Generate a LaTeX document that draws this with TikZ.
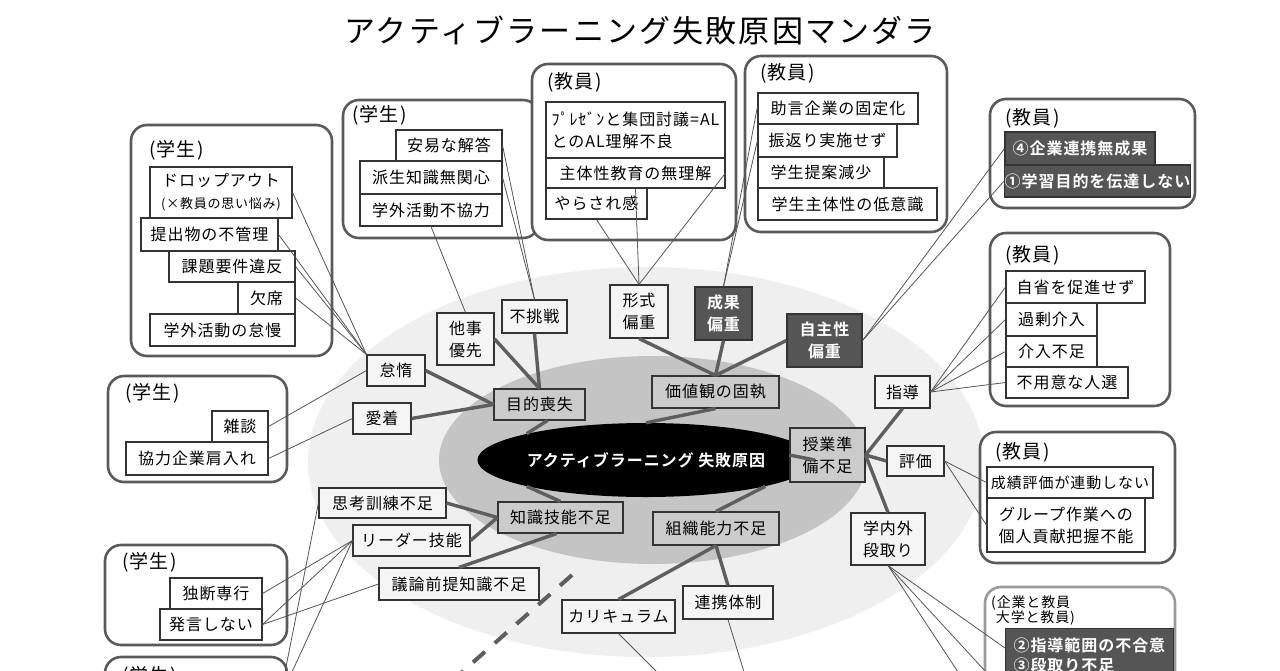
\documentclass[tikz,border=0pt]{standalone}
\usepackage{fontspec}
\setmainfont{Noto Sans CJK JP}
\newfontfamily\jp{Noto Sans CJK JP}[LetterSpace=6]
\newfontfamily\jpb{Noto Sans CJK JP Bold}[LetterSpace=6]
\newfontfamily\jpt{Noto Sans CJK JP}[LetterSpace=7]
\usetikzlibrary{shapes.geometric}
\definecolor{lightbg}{HTML}{EFEFEF}
\definecolor{midbg}{HTML}{C4C4C4}
\definecolor{boxc}{HTML}{333333}
\definecolor{grpc}{HTML}{5A5A5A}
\definecolor{grpH}{HTML}{9A9A9A}
\definecolor{darkbox}{HTML}{555555}
\definecolor{thickc}{HTML}{5E5E5E}
\definecolor{thinc}{HTML}{555555}
\definecolor{lvtwofill}{HTML}{F5F5F5}
\definecolor{lvonefill}{HTML}{CBCBCB}
\begin{document}
\begin{tikzpicture}[x=1pt,y=-1pt,
  box/.style={draw=boxc, line width=1.1pt, inner sep=0pt, text=black, align=center,
    font=\jp\fontsize{16}{22}\selectfont},
  lvone/.style={box, fill=lvonefill},
  lvtwo/.style={box, fill=lvtwofill},
  lvthree/.style={box, fill=white},
  darkb/.style={box, fill=darkbox, text=white, font=\jpb\fontsize{16}{22}\selectfont},
  grp/.style={draw=grpc, line width=2.6pt, rounded corners=16pt, fill=white},
  glabel/.style={anchor=west, inner sep=0pt, font=\jp\fontsize{19}{21}\selectfont},
  thickline/.style={draw=thickc, line width=3.4pt},
  thinline/.style={draw=thinc, line width=0.8pt},
  dashline/.style={draw=thickc, line width=4pt, dash pattern=on 16pt off 13pt}
]
\useasboundingbox (0,0) rectangle (1280,670);
\clip (0,0) rectangle (1280,670);
\fill[white] (0,0) rectangle (1280,670);

% title
\node[font=\jpt\fontsize{31}{34}\selectfont, inner sep=0pt] (title) at (640,30) {アクティブラーニング失敗原因マンダラ};

% background ellipses
\fill[lightbg] (646,462) ellipse [x radius=338pt, y radius=195pt];
\fill[midbg] (653,460) ellipse [x radius=214pt, y radius=104pt];
\node[ellipse, fill=black, minimum width=266pt, minimum height=74pt, inner sep=0pt,
  text=white, font=\jpb\fontsize{16}{20}\selectfont] (core) at (646,460) {アクティブラーニング 失敗原因};

% groups (rounded frames)
\draw[grp] (131,125) rectangle (332,356);
\draw[grp] (343,100) rectangle (539,238);
\draw[grp] (532,64) rectangle (736,240);
\draw[grp] (745,56) rectangle (947,232);
\draw[grp] (990,99) rectangle (1195,208);
\draw[grp] (990,233) rectangle (1170,406);
\draw[grp] (980,432) rectangle (1175,563);
\draw[grp, draw=grpH] (985,587) rectangle (1175,720);
\draw[grp] (108,376) rectangle (287,482);
\draw[grp] (105,545) rectangle (287,645);
\draw[grp] (105,657) rectangle (287,720);

% group labels
\node[glabel] (labA) at (149,150) {(学生)};
\node[glabel] (labB) at (352,115) {(学生)};
\node[glabel] (labC) at (547,82) {(教員)};
\node[glabel] (labD) at (760,73) {(教員)};
\node[glabel] (labE) at (1005,118) {(教員)};
\node[glabel] (labF) at (1005,255) {(教員)};
\node[glabel] (labG) at (995,452) {(教員)};
\node[glabel] (labI) at (125,393) {(学生)};
\node[glabel] (labJ) at (122,562) {(学生)};
\node[glabel] (labK) at (122,676) {(学生)};
\node[anchor=west, inner sep=0pt, align=left, font=\jp\fontsize{14}{15}\selectfont] (labH) at (991,610)
  {(企業と教員\\\phantom{(}大学と教員)};

% level 1
\node[lvone, minimum width=91pt, minimum height=31pt] (mokuteki) at (539.5,404.5) {目的喪失};
\node[lvone, minimum width=127pt, minimum height=32pt] (kachikan) at (715.5,392) {価値観の固執};
\node[lvone, minimum width=75pt, minimum height=54pt] (jugyo) at (827.5,455) {授業準\\備不足};
\node[lvone, minimum width=125pt, minimum height=31pt] (chishiki) at (560.5,517.5) {知識技能不足};
\node[lvone, minimum width=126pt, minimum height=33pt] (soshiki) at (716,528.5) {組織能力不足};

% level 2
\node[lvtwo, minimum width=58pt, minimum height=31pt] (taida) at (396,370.5) {怠惰};
\node[lvtwo, minimum width=58pt, minimum height=31pt] (aichaku) at (382,418.5) {愛着};
\node[lvtwo, minimum width=57pt, minimum height=52pt] (taji) at (465.5,339) {他事\\優先};
\node[lvtwo, minimum width=65pt, minimum height=33pt] (fuchosen) at (534.5,316.5) {不挑戦};
\node[lvtwo, minimum width=58pt, minimum height=53pt] (keishiki) at (639,311.5) {形式\\偏重};
\node[darkb, minimum width=57pt, minimum height=53pt] (seika) at (723.5,313.5) {成果\\偏重};
\node[darkb, minimum width=75pt, minimum height=53pt] (jishu) at (824.5,340.5) {自主性\\偏重};
\node[lvtwo, minimum width=55pt, minimum height=32pt] (shido) at (902.5,392) {指導};
\node[lvtwo, minimum width=57pt, minimum height=30pt] (hyoka) at (915.5,461) {評価};
\node[lvtwo, minimum width=74pt, minimum height=52pt] (dandori) at (888,539) {学内外\\段取り};
\node[lvtwo, minimum width=127pt, minimum height=30pt] (shiko) at (382.5,503) {思考訓練不足};
\node[lvtwo, minimum width=117pt, minimum height=31pt] (leader) at (411.5,540.5) {リーダー技能};
\node[lvtwo, minimum width=160pt, minimum height=32pt] (giron) at (459,584) {議論前提知識不足};
\node[lvtwo, minimum width=113pt, minimum height=33pt] (curri) at (618.5,616.5) {カリキュラム};
\node[lvtwo, minimum width=90pt, minimum height=33pt] (renkei) at (728,602.5) {連携体制};

% level 3 : group A
\node[lvthree, minimum width=142pt, minimum height=51pt] (a1) at (221,192.5)
  {ドロップアウト\\\fontsize{13}{16}\selectfont(×教員の思い悩み)};
\node[lvthree, minimum width=137pt, minimum height=33pt] (a2) at (209.5,234.5) {提出物の不管理};
\node[lvthree, minimum width=126pt, minimum height=31pt] (a3) at (232,266.5) {課題要件違反};
\node[lvthree, minimum width=57pt, minimum height=32pt] (a4) at (266.5,298) {欠席};
\node[lvthree, minimum width=145pt, minimum height=32pt] (a5) at (222.5,330) {学外活動の怠慢};
% group B
\node[lvthree, minimum width=106pt, minimum height=31pt] (b1) at (449,145.5) {安易な解答};
\node[lvthree, minimum width=142pt, minimum height=33pt] (b2) at (431,177.5) {派生知識無関心};
\node[lvthree, minimum width=142pt, minimum height=32pt] (b3) at (431,210) {学外活動不協力};
% group C
\node[lvthree, minimum width=179pt, minimum height=56pt, align=left] (c1) at (635.5,130)
  {ﾌﾟﾚｾﾞﾝと集団討議=AL\\とのAL理解不良};
\node[lvthree, minimum width=179pt, minimum height=30pt] (c2) at (635.5,173) {主体性教育の無理解};
\node[lvthree, minimum width=101pt, minimum height=31pt] (c3) at (596.5,203.5) {やらされ感};
% group D
\node[lvthree, minimum width=160pt, minimum height=31pt] (d1) at (838,108.5) {助言企業の固定化};
\node[lvthree, minimum width=139pt, minimum height=33pt] (d2) at (827.5,140.5) {振返り実施せず};
\node[lvthree, minimum width=126pt, minimum height=31pt] (d3) at (821,172.5) {学生提案減少};
\node[lvthree, minimum width=179pt, minimum height=32pt] (d4) at (847.5,204) {学生主体性の低意識};
% group E
\node[darkb, minimum width=150pt, minimum height=33pt] (e1) at (1080,148.5) {④企業連携無成果};
\node[darkb, minimum width=185pt, minimum height=32pt] (e2) at (1097.5,181) {①学習目的を伝達しない};
% group F
\node[lvthree, minimum width=139pt, minimum height=32pt] (f1) at (1075.5,287) {自省を促進せず};
\node[lvthree, minimum width=91pt, minimum height=33pt] (f2) at (1051.5,319.5) {過剰介入};
\node[lvthree, minimum width=91pt, minimum height=31pt] (f3) at (1051.5,351.5) {介入不足};
\node[lvthree, minimum width=122pt, minimum height=31pt] (f4) at (1067,382.5) {不用意な人選};
% group G
\node[lvthree, minimum width=166pt, minimum height=31pt, font=\jp\fontsize{15}{22}\selectfont] (g1) at (1070,482.5) {成績評価が連動しない};
\node[lvthree, minimum width=158pt, minimum height=54pt] (g2) at (1066,525) {グループ作業への\\個人貢献把握不能};
% group H
\node[darkb, anchor=north west, minimum width=165pt, minimum height=78pt, align=left,
  inner xsep=8pt, inner ysep=5pt, font=\jpb\fontsize{16}{20}\selectfont] (h1) at (1005,628)
  {②指導範囲の不合意\\③段取り不足\\\strut};
% group I
\node[lvthree, minimum width=56pt, minimum height=31pt] (i1) at (240,426.5) {雑談};
\node[lvthree, minimum width=142pt, minimum height=33pt] (i2) at (197,458.5) {協力企業肩入れ};
% group J
\node[lvthree, minimum width=92pt, minimum height=31pt] (j1) at (216,593.5) {独断専行};
\node[lvthree, minimum width=102pt, minimum height=31pt] (j2) at (211,624.5) {発言しない};

% free ends
\coordinate (k1) at (285,672);
\coordinate (k2) at (292,672);
\coordinate (curriEnd) at (657,672);
\coordinate (renkeiEnd) at (744,672);
\coordinate (hA) at (1005,648);
\coordinate (hB) at (986,672);
\coordinate (hC) at (958,672);
\coordinate (dsA) at (572,575);
\coordinate (dsB) at (462,672);

% thick connectors: core to level 1
\draw[thickline] ([xshift=8pt]mokuteki.south) -- (core.north west);
\draw[thickline] (kachikan.south) -- (core.north);
\draw[thickline] (core.east) -- (jugyo.west);
\draw[thickline] (core.south west) -- (chishiki.north);
\draw[thickline] (core.south east) -- (soshiki.north);
% level 1 to level 2
\draw[thickline] (taida.east) -- (mokuteki.west);
\draw[thickline] (aichaku.east) -- (mokuteki.west);
\draw[thickline] (taji.east) -- (mokuteki.north);
\draw[thickline] (fuchosen.south) -- (mokuteki.north);
\draw[thickline] (keishiki.south) -- (kachikan.north);
\draw[thickline] (seika.south) -- (kachikan.north);
\draw[thickline] (jishu.west) -- (kachikan.north);
\draw[thickline] (jugyo.east) -- (shido.south);
\draw[thickline] (jugyo.east) -- (hyoka.west);
\draw[thickline] (jugyo.east) -- (dandori.north);
\draw[thickline] (shiko.east) -- (chishiki.west);
\draw[thickline] (leader.east) -- (chishiki.west);
\draw[thickline] (giron.north) -- ([xshift=-4pt]chishiki.south);
\draw[thickline] (soshiki.south) -- (curri.north);
\draw[thickline] (soshiki.south) -- (renkei.north);

% thin connectors: level 3 to level 2
\draw[thinline] (a1.east) -- (taida.north west);
\draw[thinline] (a2.east) -- (taida.north west);
\draw[thinline] (a3.east) -- (taida.north west);
\draw[thinline] (a4.east) -- (taida.north west);
\draw[thinline] (b1.east) -- (fuchosen.north);
\draw[thinline] (b2.east) -- (fuchosen.north);
\draw[thinline] (b3.south) -- (taji.north);
\draw[thinline] (c3.south) -- (keishiki.north);
\draw[thinline] (c2.south) -- (keishiki.north);
\draw[thinline] (c2.east) -- (keishiki.north);
\draw[thinline] ([yshift=2pt]d1.west) -- (seika.north);
\draw[thinline] (d2.west) -- (seika.north);
\draw[thinline] (e1.west) -- (jishu.east);
\draw[thinline] (e2.west) -- (jishu.east);
\draw[thinline] (f1.west) -- (shido.east);
\draw[thinline] (f2.west) -- (shido.east);
\draw[thinline] (f3.west) -- (shido.east);
\draw[thinline] (f4.west) -- (shido.east);
\draw[thinline] (hyoka.east) -- (g1.west);
\draw[thinline] (hyoka.east) -- (g2.west);
\draw[thinline] (dandori.south) -- (hA);
\draw[thinline] (dandori.south) -- (hB);
\draw[thinline] (dandori.south) -- (hC);
\draw[thinline] (i1.east) -- (taida.west);
\draw[thinline] (i2.east) -- (aichaku.west);
\draw[thinline] (j1.east) -- (leader.west);
\draw[thinline] (j2.east) -- (leader.west);
\draw[thinline] (j2.east) -- (giron.west);
\draw[thinline] (k1) -- (shiko.west);
\draw[thinline] (k2) -- (leader.west);
\draw[thinline] (curri.south) -- (curriEnd);
\draw[thinline] (renkei.south) -- (renkeiEnd);

% dashed boundary
\draw[dashline] (dsA) -- (dsB);
\end{tikzpicture}
\end{document}
